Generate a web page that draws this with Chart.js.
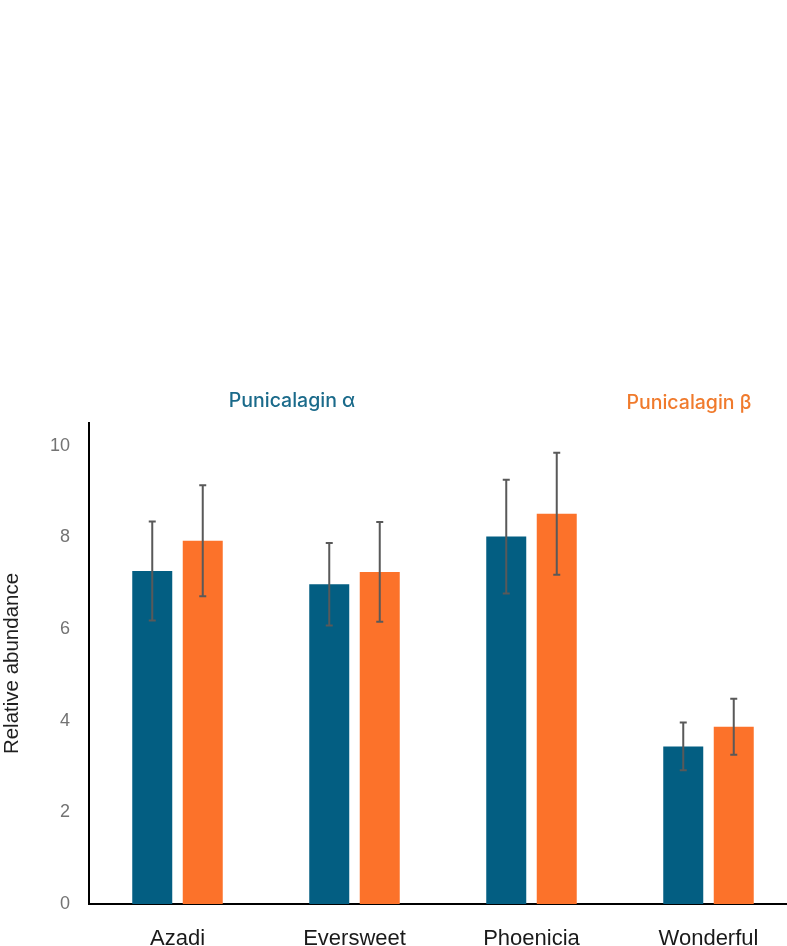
<!DOCTYPE html>
<html>
<head>
<meta charset="utf-8">
<script src="https://cdn.jsdelivr.net/npm/chart.js@4.4.1/dist/chart.umd.min.js"></script>
<style>
  html, body { margin:0; padding:0; background:#fff; overflow:hidden; width:787px; height:946px; }
  #wrap { position:absolute; left:0; top:0; width:800px; height:946px; }
  .lbl { position:absolute; font-family: Inter, "Noto Sans", sans-serif; font-size:19.5px; font-weight:500; white-space:nowrap; transform:translate(-50%,-50%); }
</style>
</head>
<body>
<div id="wrap"><canvas id="c" width="800" height="946"></canvas></div>
<div class="lbl" style="left:292px; top:400px; color:#1a6a8a;">Punicalagin α</div>
<div class="lbl" style="left:689px; top:402px; color:#f07a2c;">Punicalagin β</div>
<script>
const categories = ["Azadi", "Eversweet", "Phoenicia", "Wonderful"];
const seriesNames = ["Punicalagin α", "Punicalagin β"];
const alphaValues = [7.27, 6.98, 8.02, 3.44];
const alphaErrors = [1.08, 0.90, 1.24, 0.52];
const betaValues = [7.93, 7.25, 8.52, 3.87];
const betaErrors = [1.21, 1.09, 1.33, 0.61];
const yTicks = [0, 2, 4, 6, 8, 10];

const errorBarPlugin = {
  id: 'errorBars',
  afterDatasetsDraw(chart) {
    const ctx = chart.ctx;
    const y = chart.scales.y;
    ctx.save();
    ctx.strokeStyle = '#595959';
    ctx.lineWidth = 2;
    chart.data.datasets.forEach((ds, di) => {
      const meta = chart.getDatasetMeta(di);
      meta.data.forEach((bar, i) => {
        const v = ds.data[i], e = ds.errors[i];
        const x = bar.x;
        const yt = y.getPixelForValue(v + e), yb = y.getPixelForValue(v - e);
        ctx.beginPath();
        ctx.moveTo(x, yt); ctx.lineTo(x, yb);
        ctx.moveTo(x - 3.5, yt); ctx.lineTo(x + 3.5, yt);
        ctx.moveTo(x - 3.5, yb); ctx.lineTo(x + 3.5, yb);
        ctx.stroke();
      });
    });
    ctx.restore();
  }
};

new Chart(document.getElementById('c'), {
  type: 'bar',
  data: {
    labels: categories,
    datasets: [
      { label: seriesNames[0], data: alphaValues, errors: alphaErrors, backgroundColor: '#035e82' },
      { label: seriesNames[1], data: betaValues, errors: betaErrors, backgroundColor: '#fc722a' }
    ]
  },
  options: {
    responsive: false,
    animation: false,
    devicePixelRatio: 1,
    layout: { padding: { top: 423, right: 3, left: 0, bottom: 0 } },
    categoryPercentage: 0.5706,
    barPercentage: 0.792,
    plugins: { legend: { display: false }, tooltip: { enabled: false } },
    scales: {
      x: {
        grid: { display: false, drawTicks: false },
        border: { display: true, color: '#000', width: 2 },
        ticks: { color: '#1a1a1a', padding: 22, font: { family: '"Liberation Sans Narrow", "Liberation Sans", sans-serif', size: 22 } },
        afterFit(s) { s.height = 42; }
      },
      y: {
        min: 0, max: 10.5,
        grid: { display: false, drawTicks: false },
        border: { display: true, color: '#000', width: 2 },
        ticks: { stepSize: 2, color: '#737373', padding: 19, font: { family: '"Liberation Sans", Arial, sans-serif', size: 18 } },
        afterBuildTicks(s) { s.ticks = yTicks.map(v => ({ value: v })); },
        title: { display: true, text: 'Relative abundance', color: '#1f1f1f', padding: 0, font: { family: '"Liberation Sans", Arial, sans-serif', size: 20.5 } },
        afterFit(s) { s.width = 89; }
      }
    }
  },
  plugins: [errorBarPlugin]
});
</script>
</body>
</html>
